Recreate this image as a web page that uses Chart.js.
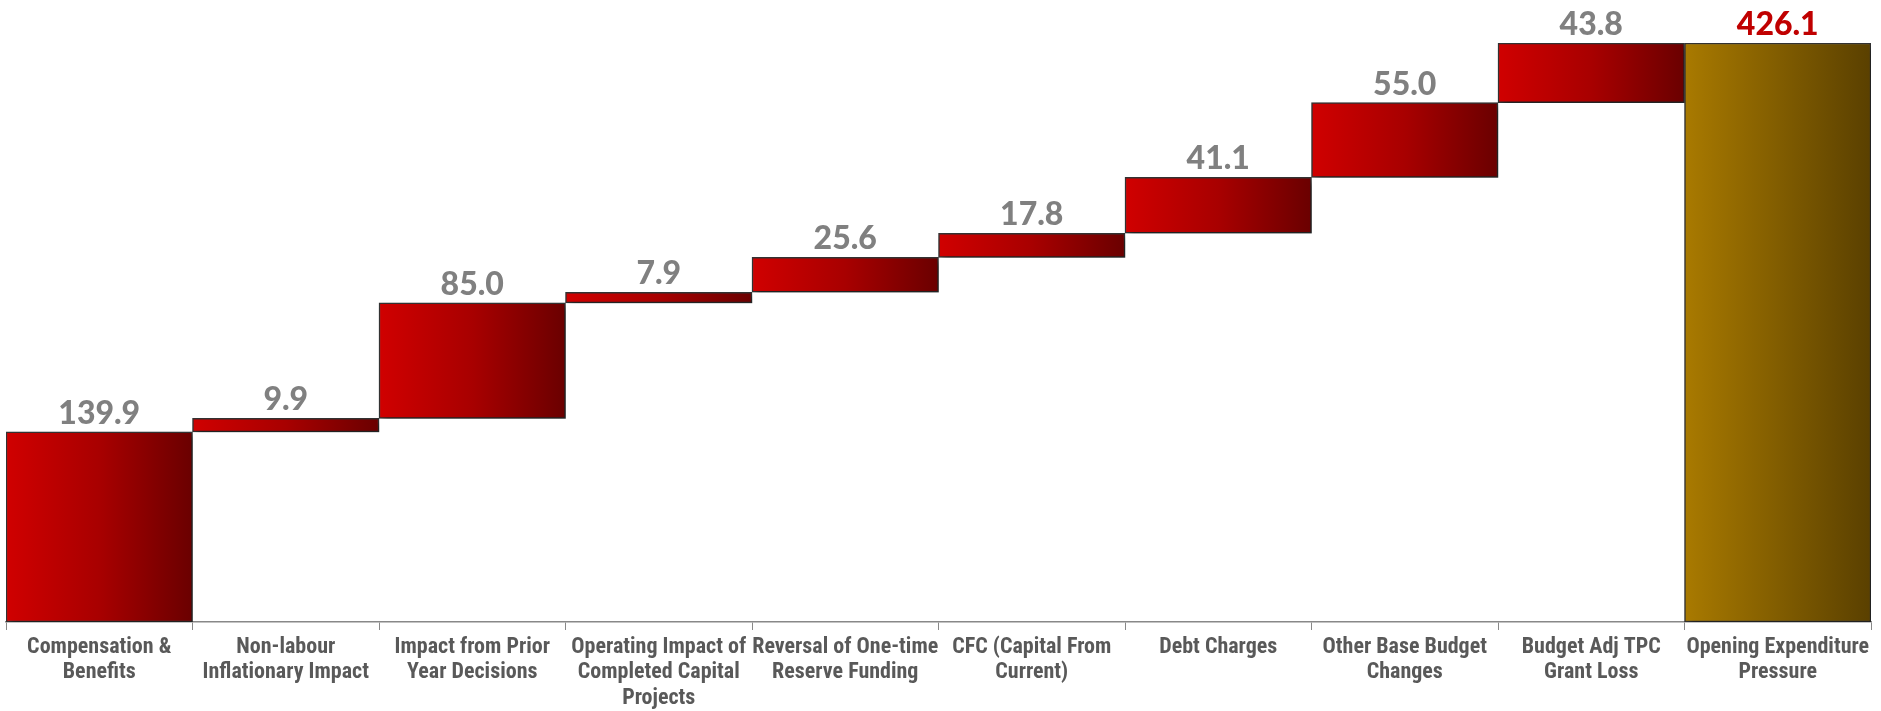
<!DOCTYPE html>
<html>
<head>
<meta charset="utf-8">
<script src="https://cdn.jsdelivr.net/npm/chart.js@4/dist/chart.umd.min.js"></script>
<style>
  html, body { margin: 0; padding: 0; background: #ffffff; }
  #wrap { width: 1881px; height: 711px; }
</style>
</head>
<body>
<div id="wrap"><canvas id="chart" width="1881" height="711"></canvas></div>
<script>
// Chart data
const categories = [
    ['Compensation &', 'Benefits'],
    ['Non-labour', 'Inflationary Impact'],
    ['Impact from Prior', 'Year Decisions'],
    ['Operating Impact of', 'Completed Capital', 'Projects'],
    ['Reversal of One-time', 'Reserve Funding'],
    ['CFC (Capital From', 'Current)'],
    ['Debt Charges'],
    ['Other Base Budget', 'Changes'],
    ['Budget Adj TPC', 'Grant Loss'],
    ['Opening Expenditure', 'Pressure']
];
const increments = [139.9, 9.9, 85.0, 7.9, 25.6, 17.8, 41.1, 55.0, 43.8];
const totalValue = 426.1;

// Build floating bars [start, end] from the increments
const ranges = [];
let running = 0;
increments.forEach(v => {
    ranges.push([running, running + v]);
    running += v;
});
ranges.push([0, totalValue]);
const labelValues = increments.concat([totalValue]);

function barGradient(context) {
    const chart = context.chart;
    const xs = chart.scales.x;
    const i = context.dataIndex;
    const isTotal = i === categories.length - 1;
    if (!xs) return isTotal ? '#8a6000' : '#a80000';
    const cx = xs.getPixelForValue(i);
    const w = xs.getPixelForValue(1) - xs.getPixelForValue(0);
    if (!isFinite(cx) || !isFinite(w)) return isTotal ? '#8a6000' : '#a80000';
    const g = chart.ctx.createLinearGradient(cx - w / 2, 0, cx + w / 2, 0);
    if (isTotal) {
        g.addColorStop(0, '#a97a00');
        g.addColorStop(1, '#5a4000');
    } else {
        g.addColorStop(0, '#d00000');
        g.addColorStop(0.5, '#a80000');
        g.addColorStop(1, '#6a0000');
    }
    return g;
}

const shadowPlugin = {
    id: 'shadow',
    beforeDatasetsDraw(chart) {
        const ctx = chart.ctx;
        ctx.save();
        ctx.shadowColor = 'rgba(0,0,0,0.4)';
        ctx.shadowBlur = 6;
        ctx.shadowOffsetX = 4;
        ctx.shadowOffsetY = 4;
    },
    afterDatasetsDraw(chart) {
        chart.ctx.restore();
    }
};

const valueLabels = {
    id: 'valueLabels',
    afterDraw(chart) {
        const ctx = chart.ctx;
        const meta = chart.getDatasetMeta(0);
        ctx.save();
        ctx.font = '900 32px Lato, "Open Sans", sans-serif';
        ctx.textAlign = 'center';
        ctx.textBaseline = 'alphabetic';
        meta.data.forEach((bar, i) => {
            const top = Math.min(bar.y, bar.base);
            ctx.fillStyle = (i === meta.data.length - 1) ? '#c00000' : '#808080';
            ctx.fillText(labelValues[i].toFixed(1), bar.x, top - 8);
        });
        ctx.restore();
    }
};

const chart = new Chart(document.getElementById('chart'), {
    type: 'bar',
    data: {
        labels: categories,
        datasets: [{
            data: ranges,
            backgroundColor: barGradient,
            borderColor: '#333333',
            borderWidth: 1.5,
            borderSkipped: false,
            categoryPercentage: 1.0,
            barPercentage: 1.0
        }]
    },
    options: {
        responsive: false,
        animation: false,
        layout: { padding: { top: 43, left: 6, right: 10, bottom: 0 } },
        plugins: {
            legend: { display: false },
            tooltip: { enabled: false }
        },
        scales: {
            y: {
                display: false,
                min: 0,
                max: totalValue
            },
            x: {
                offset: true,
                grid: {
                    offset: true,
                    drawOnChartArea: false,
                    tickLength: 8,
                    color: '#888888'
                },
                border: { display: true, color: '#888888', width: 1.5 },
                ticks: {
                    color: '#595959',
                    padding: 5,
                    maxRotation: 0,
                    autoSkip: false,
                    font: { family: '"Liberation Sans Narrow", "Arial Narrow", "Roboto Condensed", sans-serif', size: 22, weight: 'bold', lineHeight: 1.15 }
                },
                afterFit(scale) { scale.height = 89; }
            }
        }
    },
    plugins: [shadowPlugin, valueLabels]
});
// re-render once scales exist so gradients resolve
chart.update('none');
</script>
</body>
</html>
